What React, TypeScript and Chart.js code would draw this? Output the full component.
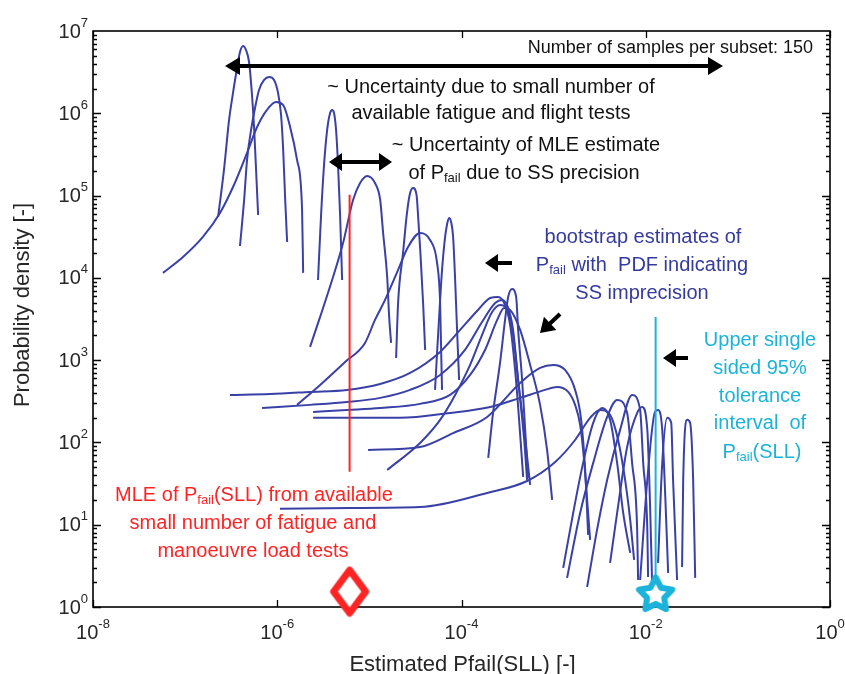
import { useEffect, useRef } from 'react';
import { Chart, registerables } from 'chart.js';

Chart.register(...registerables);

type XY = [number, number];

// Axis ranges and labelled tick values
const X_RANGE: XY = [1e-8, 1];
const Y_RANGE: XY = [1, 1e7];
const X_TICKS = [1e-8, 1e-6, 1e-4, 1e-2, 1];
const Y_TICKS = [1, 10, 100, 1e3, 1e4, 1e5, 1e6, 1e7];

// Bootstrap PDFs of Pfail(SLL): [estimated Pfail, probability density]
const PDF_01: XY[] = [[2.28e-7, 5.5e4], [2.64e-7, 2.05e5], [3.0e-7, 8.3e5], [3.31e-7, 1.77e6], [3.66e-7, 3.55e6], [3.94e-7, 5.56e6], [4.26e-7, 6.57e6], [4.58e-7, 5.87e6], [4.94e-7, 4.2e6], [5.32e-7, 1.67e6], [5.6e-7, 6.82e5], [5.89e-7, 2.05e5], [6.2e-7, 5.81e4]];
const PDF_02: XY[] = [[3.94e-7, 2.44e4], [4.37e-7, 8.85e4], [4.7e-7, 2.71e5], [5.2e-7, 6.27e5], [5.74e-7, 1.16e6], [6.34e-7, 1.92e6], [7.2e-7, 2.54e6], [8.15e-7, 2.76e6], [9.23e-7, 2.54e6], [1.02e-6, 1.77e6], [1.1e-6, 9.53e5], [1.16e-6, 3.58e5], [1.22e-6, 8.85e4], [1.28e-6, 2.73e4]];
const PDF_03: XY[] = [[5.75e-8, 1.15e4], [9.48e-8, 1.79e4], [1.56e-7, 3.14e4], [2.39e-7, 6.15e4], [3.31e-7, 1.27e5], [4.7e-7, 3.3e5], [6.04e-7, 6.82e5], [7.74e-7, 1.1e6], [9.7e-7, 1.37e6], [1.16e-6, 1.26e6], [1.38e-6, 6.82e5], [1.64e-6, 2.71e5], [1.86e-6, 6.68e4], [1.91e-6, 1.15e4]];
const PDF_04: XY[] = [[2.77e-6, 9.42e3], [2.99e-6, 5.81e4], [3.22e-6, 2.35e5], [3.48e-6, 6.27e5], [3.74e-6, 1.0e6], [3.94e-6, 1.1e6], [4.14e-6, 1.0e6], [4.35e-6, 6.27e5], [4.57e-6, 2.35e5], [4.81e-6, 5.81e4], [5.06e-6, 9.42e3]];
const PDF_05: XY[] = [[2.27e-6, 1.45e3], [2.92e-6, 3.35e3], [4.04e-6, 1.03e4], [5.18e-6, 2.65e4], [6.65e-6, 8.85e4], [7.93e-6, 1.42e5], [9.44e-6, 1.73e5], [1.15e-5, 1.42e5], [1.31e-5, 8.85e4], [1.41e-5, 3.51e4], [1.56e-5, 1.03e4], [1.64e-5, 3.35e3], [1.72e-5, 1.62e3]];
const PDF_06: XY[] = [[1.95e-5, 1.06e3], [2.05e-5, 4.95e3], [2.32e-5, 2.01e4], [2.56e-5, 6.15e4], [2.77e-5, 1.08e5], [2.98e-5, 1.24e5], [3.25e-5, 1.02e5], [3.4e-5, 5.06e4], [3.58e-5, 2.01e4], [3.83e-5, 4.95e3], [4.03e-5, 1.33e3]];
const PDF_07: XY[] = [[1.64e-6, 286], [2.92e-6, 500], [5.45e-6, 951], [8.97e-6, 1.62e3], [1.15e-5, 3.08e3], [1.48e-5, 5.39e3], [2.05e-5, 1.25e4], [2.63e-5, 2.37e4], [3.55e-5, 3.51e4], [4.56e-5, 2.88e4], [5.43e-5, 1.52e4], [5.86e-5, 4.95e3], [6.01e-5, 1.33e3], [6.15e-5, 435]];
const PDF_08: XY[] = [[5.16e-5, 435], [5.43e-5, 1.22e3], [5.86e-5, 5.39e3], [6.15e-5, 1.25e4], [6.64e-5, 3.14e4], [6.98e-5, 4.52e4], [7.33e-5, 5.35e4], [7.71e-5, 4.78e4], [8.11e-5, 3.14e4], [8.53e-5, 9.42e3], [8.95e-5, 2.33e3], [9.42e-5, 574]];
const PDF_09: XY[] = [[1.95e-4, 64.9], [2.2e-4, 228], [2.62e-4, 925], [2.97e-4, 3080], [3.21e-4, 5860], [3.54e-4, 7330], [3.92e-4, 5860], [4.12e-4, 2330], [4.55e-4, 574], [4.91e-4, 142], [5.28e-4, 37.1]];
const PDF_10: XY[] = [[3.07e-7, 378], [8.36e-7, 388], [2.27e-6, 411], [5.73e-6, 435], [1.31e-5, 514], [2.77e-5, 700], [5.86e-5, 1260], [9.66e-5, 2330], [1.51e-4, 4070], [2.05e-4, 5700], [2.49e-4, 5860], [2.97e-4, 4690], [3.37e-4, 2680], [3.82e-4, 760], [4.22e-4, 188], [4.67e-4, 38.1]];
const PDF_11: XY[] = [[6.84e-7, 262], [2.27e-6, 286], [5.73e-6, 310], [1.31e-5, 348], [2.77e-5, 435], [5.86e-5, 661], [1.09e-4, 1330], [1.67e-4, 2910], [2.32e-4, 4950], [2.76e-4, 5390], [3.21e-4, 4310], [3.63e-4, 2330], [4.12e-4, 574], [4.79e-4, 142], [5.56e-4, 30.5]];
const PDF_12: XY[] = [[2.45e-6, 235], [5.73e-6, 248], [1.31e-5, 262], [3.55e-5, 294], [7.52e-5, 378], [1.24e-4, 661], [1.8e-4, 1330], [2.44e-4, 3080], [2.9e-4, 4310], [3.37e-4, 4070], [4.33e-4, 2330], [5.56e-4, 875], [7.13e-4, 286], [8.49e-4, 81.1], [9.64e-4, 20.0]];
const PDF_13: XY[] = [[1.56e-5, 46.3], [3.55e-5, 98.6], [5.86e-5, 188], [8.53e-5, 378], [1.24e-4, 875], [1.67e-4, 2020], [2.15e-4, 3850], [2.62e-4, 4690], [3.13e-4, 4070], [3.63e-4, 2020], [4.22e-4, 435], [4.79e-4, 107], [5.15e-4, 35.0]];
const PDF_14: XY[] = [[9.68e-6, 81.1], [3.55e-5, 88.1], [8.11e-5, 130], [1.9e-4, 204], [4.33e-4, 528], [7.13e-4, 804], [9.89e-4, 875], [1.33e-3, 760], [1.71e-3, 435], [1.99e-3, 188], [2.2e-3, 46.3], [2.37e-3, 7.52]];
const PDF_15: XY[] = [[2.45e-6, 199], [7.93e-6, 199], [2.15e-5, 199], [7.52e-5, 228], [2.05e-4, 270], [4.33e-4, 348], [8.09e-4, 435], [1.09e-3, 472], [1.44e-3, 411], [1.71e-3, 286], [1.94e-3, 163], [2.14e-3, 61.2], [2.31e-3, 20.0], [2.49e-3, 6.53]];
const PDF_16: XY[] = [[1.07e-6, 15.6], [6.17e-6, 16.0], [3.55e-5, 16.4], [1.9e-4, 24.3], [5.15e-4, 34.0], [1.04e-3, 57.9], [1.71e-3, 107], [2.49e-3, 199], [3.2e-3, 248], [4.1e-3, 216], [5.01e-3, 107], [5.97e-3, 35.0], [6.78e-3, 11.4], [7.48e-3, 3.73]];
const PDF_17: XY[] = [[1.27e-3, 2.99], [1.63e-3, 13.9], [2.09e-3, 56.4], [2.69e-3, 173], [3.37e-3, 262], [4.1e-3, 188], [4.89e-3, 56.4], [5.69e-3, 13.9], [6.78e-3, 4.54]];
const PDF_18: XY[] = [[1.4e-3, 2.26], [1.94e-3, 13.9], [2.69e-3, 56.4], [3.81e-3, 204], [4.89e-3, 328], [6.28e-3, 228], [7.11e-3, 56.4], [8.07e-3, 8.65], [8.26e-3, 2.13]];
const PDF_19: XY[] = [[2.31e-3, 1.75], [2.96e-3, 8.65], [3.81e-3, 35.0], [5.27e-3, 142], [7.11e-3, 378], [8.69e-3, 248], [9.38e-3, 56.4], [1.04e-2, 8.65], [1.06e-2, 2.32]];
const PDF_20: XY[] = [[4.1e-3, 3.44], [4.89e-3, 13.9], [6.28e-3, 88.1], [8.07e-3, 228], [9.14e-3, 270], [1.04e-2, 142], [1.12e-2, 13.9], [1.17e-2, 2.13]];
const PDF_21: XY[] = [[8.69e-3, 2.13], [1.04e-2, 35.0], [1.26e-2, 235], [1.36e-2, 248], [1.51e-2, 142], [1.63e-2, 21.8], [1.75e-2, 2.59]];
const PDF_22: XY[] = [[1.36e-2, 3.44], [1.51e-2, 56.4], [1.71e-2, 199], [1.89e-2, 173], [1.98e-2, 35.0], [2.19e-2, 2.13]];
const PDF_23: XY[] = [[2.48e-2, 3.07], [2.55e-2, 35.0], [2.82e-2, 188], [3.03e-2, 173], [3.27e-2, 35.0], [3.44e-2, 2.26]];

const BOOTSTRAP_PDFS = [
  PDF_01, PDF_02, PDF_03, PDF_04, PDF_05, PDF_06, PDF_07, PDF_08, PDF_09, PDF_10, PDF_11, PDF_12,
  PDF_13, PDF_14, PDF_15, PDF_16, PDF_17, PDF_18, PDF_19, PDF_20, PDF_21, PDF_22, PDF_23,
];

// MLE of Pfail(SLL) and the upper one-sided 95% tolerance bound
const MLE_PFAIL = 6.1e-6;
const MLE_LINE_Y: XY = [44, 1.02e5];
const MLE_MARK_Y = 1.54;
const TOL_PFAIL = 1.28e-2;
const TOL_LINE_Y: XY = [1.6, 3.35e3];
const TOL_MARK_Y = 1.48;

const FONT = '"Liberation Sans", Arial, Helvetica, sans-serif';
const CURVE_BLUE = '#3a41a6';
const TEXT_BLUE = '#353b9c';
const RED = '#ff2424';
const CYAN = '#1cb3da';
const INK = '#111111';
const AXIS_INK = '#262626';

type Seg = [string, boolean?];

function drawRich(ctx: CanvasRenderingContext2D, segs: Seg[], x: number, y: number, size: number, color: string, align: 'center' | 'right' = 'center') {
  const subSize = Math.round(size * 0.65);
  const widths = segs.map(([t, sub]) => {
    ctx.font = `${sub ? subSize : size}px ${FONT}`;
    return ctx.measureText(t).width;
  });
  const total = widths.reduce((a, b) => a + b, 0);
  let cx = align === 'center' ? x - total / 2 : x - total;
  ctx.fillStyle = color;
  ctx.textBaseline = 'middle';
  ctx.textAlign = 'left';
  segs.forEach(([t, sub], i) => {
    ctx.font = `${sub ? subSize : size}px ${FONT}`;
    ctx.fillText(t, cx, sub ? y + size * 0.27 : y);
    cx += widths[i];
  });
}

function drawPower(ctx: CanvasRenderingContext2D, exp: string, x: number, baseY: number, expY: number, align: 'center' | 'right') {
  ctx.font = `20px ${FONT}`;
  const wb = ctx.measureText('10').width;
  ctx.font = `13px ${FONT}`;
  const we = ctx.measureText(exp).width;
  const left = align === 'center' ? x - (wb + we) / 2 : x - wb - we;
  ctx.fillStyle = AXIS_INK;
  ctx.textBaseline = 'middle';
  ctx.textAlign = 'left';
  ctx.font = `20px ${FONT}`;
  ctx.fillText('10', left, baseY);
  ctx.font = `13px ${FONT}`;
  ctx.fillText(exp, left + wb, expY);
}

function head(ctx: CanvasRenderingContext2D, tx: number, ty: number, fx: number, fy: number, len: number, hw: number) {
  const a = Math.atan2(ty - fy, tx - fx);
  const bx = tx - len * Math.cos(a);
  const by = ty - len * Math.sin(a);
  ctx.beginPath();
  ctx.moveTo(tx, ty);
  ctx.lineTo(bx - hw * Math.sin(a), by + hw * Math.cos(a));
  ctx.lineTo(bx + hw * Math.sin(a), by - hw * Math.cos(a));
  ctx.closePath();
  ctx.fill();
}

function arrow(ctx: CanvasRenderingContext2D, x1: number, y1: number, x2: number, y2: number, both: boolean, len: number, hw: number) {
  const a = Math.atan2(y2 - y1, x2 - x1);
  const sx = both ? x1 + len * 0.8 * Math.cos(a) : x1;
  const sy = both ? y1 + len * 0.8 * Math.sin(a) : y1;
  ctx.beginPath();
  ctx.moveTo(sx, sy);
  ctx.lineTo(x2 - len * 0.8 * Math.cos(a), y2 - len * 0.8 * Math.sin(a));
  ctx.stroke();
  head(ctx, x2, y2, x1, y1, len, hw);
  if (both) head(ctx, x1, y1, x2, y2, len, hw);
}

const frame = {
  id: 'frame',
  beforeDatasetsDraw(chart: any) {
    const { ctx, chartArea: a, scales } = chart;
    const xs = scales.x;
    const ys = scales.y;
    ctx.save();
    ctx.strokeStyle = '#000';
    ctx.lineWidth = 1.3;
    ctx.beginPath();
    for (let e = 0; e < 7; e++) {
      for (let m = 1; m <= 9; m++) {
        const py = Math.round(ys.getPixelForValue(m * Math.pow(10, e))) + 0.5;
        const len = m === 1 ? 8 : 4;
        ctx.moveTo(a.left, py);
        ctx.lineTo(a.left + len, py);
        ctx.moveTo(a.right, py);
        ctx.lineTo(a.right - len, py);
      }
    }
    for (const v of X_TICKS) {
      const px = Math.round(xs.getPixelForValue(v)) + 0.5;
      ctx.moveTo(px, a.bottom);
      ctx.lineTo(px, a.bottom - 7);
      ctx.moveTo(px, a.top);
      ctx.lineTo(px, a.top + 7);
    }
    ctx.stroke();
    ctx.lineWidth = 1.6;
    ctx.strokeRect(a.left, a.top, a.right - a.left, a.bottom - a.top);

    for (const v of X_TICKS) {
      const px = xs.getPixelForValue(v);
      drawPower(ctx, String(Math.round(Math.log10(v))), px, a.bottom + 26, a.bottom + 17, 'center');
    }
    for (const v of Y_TICKS) {
      const py = ys.getPixelForValue(v);
      drawPower(ctx, String(Math.round(Math.log10(v))), a.left - 5, py + 1, py - 8, 'right');
    }

    ctx.fillStyle = AXIS_INK;
    ctx.font = `22px ${FONT}`;
    ctx.textAlign = 'center';
    ctx.textBaseline = 'middle';
    ctx.fillText('Estimated Pfail(SLL) [-]', (a.left + a.right) / 2 + 1, a.bottom + 58);
    ctx.save();
    ctx.translate(23, (a.top + a.bottom) / 2 - 14);
    ctx.rotate(-Math.PI / 2);
    ctx.fillText('Probability density [-]', 0, 0);
    ctx.restore();
    ctx.restore();
  },
};

const notes = {
  id: 'notes',
  afterDatasetsDraw(chart: any) {
    const { ctx } = chart;
    ctx.save();
    ctx.fillStyle = '#000';
    ctx.strokeStyle = '#000';
    ctx.lineWidth = 4;
    arrow(ctx, 225, 66, 723, 66, true, 15, 9);
    arrow(ctx, 329, 162, 392, 162, true, 13, 9);
    arrow(ctx, 512, 263, 485, 263, false, 13, 9);
    arrow(ctx, 560, 314, 540, 333, false, 14, 9);
    arrow(ctx, 688, 358, 663, 358, false, 13, 9);

    drawRich(ctx, [['Number of samples per subset: 150']], 813, 48, 18, INK, 'right');
    drawRich(ctx, [['~ Uncertainty due to small number of']], 491, 87, 20, INK);
    drawRich(ctx, [['available fatigue and flight tests']], 491, 113, 20, INK);
    drawRich(ctx, [['~ Uncertainty of MLE estimate']], 526, 145, 20, INK);
    drawRich(ctx, [['of P'], ['fail', true], [' due to SS precision']], 524, 173, 20, INK);

    drawRich(ctx, [['bootstrap estimates of']], 643, 237, 20, TEXT_BLUE);
    drawRich(ctx, [['P'], ['fail', true], [' with  PDF indicating']], 642, 265, 20, TEXT_BLUE);
    drawRich(ctx, [['SS imprecision']], 642, 293, 20, TEXT_BLUE);

    drawRich(ctx, [['Upper single']], 760, 340, 20, CYAN);
    drawRich(ctx, [['sided 95%']], 760, 368, 20, CYAN);
    drawRich(ctx, [['tolerance']], 760, 396, 20, CYAN);
    drawRich(ctx, [['interval  of']], 760, 423, 20, CYAN);
    drawRich(ctx, [['P'], ['fail', true], ['(SLL)']], 762, 452, 20, CYAN);

    drawRich(ctx, [['MLE of P'], ['fail', true], ['(SLL) from available']], 254, 495, 20, RED);
    drawRich(ctx, [['small number of fatigue and']], 253, 523, 20, RED);
    drawRich(ctx, [['manoeuvre load tests']], 253, 551, 20, RED);
    ctx.restore();
  },
};

function diamondMarker(): HTMLCanvasElement {
  const c = document.createElement('canvas');
  c.width = 42;
  c.height = 52;
  const g = c.getContext('2d')!;
  g.strokeStyle = RED;
  g.lineWidth = 7;
  g.lineJoin = 'round';
  g.beginPath();
  g.moveTo(21, 4.5);
  g.lineTo(37, 26);
  g.lineTo(21, 47.5);
  g.lineTo(5, 26);
  g.closePath();
  g.fillStyle = '#fff';
  g.fill();
  g.stroke();
  return c;
}

function starMarker(): HTMLCanvasElement {
  const c = document.createElement('canvas');
  c.width = 46;
  c.height = 44;
  const g = c.getContext('2d')!;
  g.translate(23, 24);
  g.beginPath();
  for (let i = 0; i < 10; i++) {
    const r = i % 2 === 0 ? 17.5 : 9;
    const ang = -Math.PI / 2 + (i * Math.PI) / 5;
    const px = r * Math.cos(ang);
    const py = r * Math.sin(ang);
    if (i === 0) g.moveTo(px, py);
    else g.lineTo(px, py);
  }
  g.closePath();
  g.fillStyle = '#fff';
  g.fill();
  g.strokeStyle = CYAN;
  g.lineWidth = 6;
  g.lineJoin = 'round';
  g.stroke();
  return c;
}

export default function App() {
  const ref = useRef<HTMLCanvasElement>(null);

  useEffect(() => {
    const canvas = ref.current;
    if (!canvas) return;

    const curveSets = BOOTSTRAP_PDFS.map((pdf) => ({
      type: 'line' as const,
      data: pdf.map(([x, y]) => ({ x, y })),
      borderColor: CURVE_BLUE,
      borderWidth: 2,
      pointRadius: 0,
      fill: false,
      cubicInterpolationMode: 'monotone' as const,
      order: 3,
    }));

    const chart = new Chart(canvas, {
      type: 'line',
      data: {
        datasets: [
          {
            data: [{ x: MLE_PFAIL, y: MLE_MARK_Y }],
            showLine: false,
            pointStyle: diamondMarker(),
            pointRadius: 10,
            clip: false,
            order: 0,
          },
          {
            data: [{ x: TOL_PFAIL, y: TOL_MARK_Y }],
            showLine: false,
            pointStyle: starMarker(),
            pointRadius: 10,
            clip: false,
            order: 0,
          },
          {
            data: [{ x: MLE_PFAIL, y: MLE_LINE_Y[0] }, { x: MLE_PFAIL, y: MLE_LINE_Y[1] }],
            borderColor: RED,
            borderWidth: 2,
            pointRadius: 0,
            order: 1,
          },
          {
            data: [{ x: TOL_PFAIL, y: TOL_LINE_Y[0] }, { x: TOL_PFAIL, y: TOL_LINE_Y[1] }],
            borderColor: CYAN,
            borderWidth: 2,
            pointRadius: 0,
            order: 1,
          },
          ...curveSets,
        ] as any,
      },
      options: {
        animation: false,
        responsive: false,
        devicePixelRatio: 1,
        events: [],
        layout: { padding: { left: 93, top: 31, right: 15, bottom: 67 } },
        plugins: { legend: { display: false }, tooltip: { enabled: false } },
        scales: {
          x: { type: 'logarithmic', min: X_RANGE[0], max: X_RANGE[1], display: false },
          y: { type: 'logarithmic', min: Y_RANGE[0], max: Y_RANGE[1], display: false },
        },
      },
      plugins: [frame, notes],
    });

    return () => chart.destroy();
  }, []);

  return (
    <div style={{ position: 'absolute', left: 0, top: 0, width: 845, height: 674, background: '#fff' }}>
      <canvas ref={ref} width={845} height={674} style={{ display: 'block' }} />
    </div>
  );
}
